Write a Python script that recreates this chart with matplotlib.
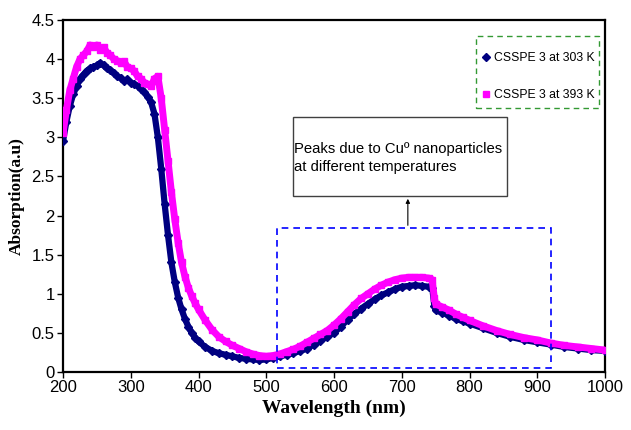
import matplotlib
matplotlib.use("Agg")
import matplotlib.pyplot as plt
from matplotlib.patches import Rectangle
from matplotlib.lines import Line2D

plt.rcParams['font.family'] = ['Liberation Sans', 'DejaVu Sans']

wl_blue = [200, 205, 210, 215, 220, 225, 230, 235, 240, 245, 250, 255, 260, 265, 270, 275,
           280, 285, 290, 295, 300, 305, 310, 315, 320, 325, 330, 335, 340, 345, 350, 355,
           360, 365, 370, 375, 380, 385, 390, 395, 400, 410, 420, 430, 440, 450, 460, 470,
           480, 490, 500, 510, 520, 530, 540, 550, 560, 570, 580, 590, 600, 610, 620, 630,
           640, 650, 660, 670, 680, 690, 700, 710, 720, 730, 740, 745, 748, 750, 760, 770,
           780, 790, 800, 820, 840, 860, 880, 900, 920, 940, 960, 980, 1000]
abs_303 = [2.95, 3.2, 3.4, 3.55, 3.65, 3.75, 3.8, 3.85, 3.88, 3.9, 3.92, 3.95, 3.92, 3.88, 3.86, 3.82,
           3.78, 3.76, 3.72, 3.74, 3.70, 3.68, 3.66, 3.62, 3.58, 3.52, 3.45, 3.3, 3.0, 2.6, 2.15, 1.75,
           1.4, 1.15, 0.95, 0.8, 0.68, 0.58, 0.5, 0.44, 0.39, 0.32, 0.27, 0.24, 0.22, 0.2, 0.18, 0.17,
           0.16, 0.155, 0.16, 0.18, 0.2, 0.22, 0.24, 0.27, 0.3, 0.35, 0.4, 0.45, 0.5, 0.58, 0.67, 0.74,
           0.81, 0.87, 0.93, 0.98, 1.02, 1.06, 1.09, 1.1, 1.11, 1.1, 1.09, 1.08, 0.85, 0.79, 0.76, 0.72,
           0.68, 0.65, 0.62, 0.56, 0.5, 0.45, 0.41, 0.38, 0.35, 0.32, 0.3, 0.28, 0.27]

wl_pink = wl_blue
abs_393 = [3.05, 3.35, 3.6, 3.75, 3.9, 4.0, 4.05, 4.1, 4.18, 4.15, 4.18, 4.12, 4.15, 4.08, 4.05, 4.0,
           3.98, 3.95, 3.97, 3.9, 3.88, 3.85, 3.78, 3.75, 3.7, 3.68, 3.65, 3.75, 3.78, 3.5, 3.1, 2.7,
           2.3, 1.95, 1.65, 1.4, 1.22, 1.08, 0.97, 0.88, 0.8, 0.66, 0.54, 0.45, 0.39, 0.34, 0.3, 0.26,
           0.23, 0.21, 0.2, 0.21, 0.23, 0.26, 0.29, 0.33, 0.38, 0.43, 0.48, 0.53, 0.6, 0.68, 0.77, 0.86,
           0.94, 1.0, 1.06, 1.11, 1.15, 1.18, 1.2, 1.21, 1.21, 1.21, 1.2, 1.18, 0.95, 0.87, 0.83, 0.79,
           0.74, 0.7, 0.66, 0.59, 0.53, 0.48, 0.44, 0.41, 0.37, 0.34, 0.32, 0.3, 0.28]

labels = ['CSSPE 3 at 303 K', 'CSSPE 3 at 393 K']
xticks = [200, 300, 400, 500, 600, 700, 800, 900, 1000]
yticks = [0, 0.5, 1, 1.5, 2, 2.5, 3, 3.5, 4, 4.5]
ytick_labels = ['0', '0.5', '1', '1.5', '2', '2.5', '3', '3.5', '4', '4.5']
note = 'Peaks due to Cu\u00ba nanoparticles\nat different temperatures'

c_blue = '#000080'
c_pink = '#FF00FF'

fig = plt.figure(figsize=(6.31, 4.30), dpi=100)
ax = fig.add_axes([63/631, 58/430, 542/631, 352/430])

ax.plot(wl_blue, abs_303, color=c_blue, lw=4.5, marker='D', ms=4, solid_capstyle='round',
        solid_joinstyle='round', zorder=3)
ax.plot(wl_pink, abs_393, color=c_pink, lw=5.0, marker='s', ms=5, solid_capstyle='round',
        solid_joinstyle='round', zorder=4)

ax.set_xlim(200, 1000)
ax.set_ylim(0, 4.5)
ax.set_xticks(xticks)
ax.set_yticks(yticks)
ax.set_yticklabels(ytick_labels)
ax.tick_params(direction='out', length=4, width=1, labelsize=12, colors='black', pad=2)
for s in ax.spines.values():
    s.set_linewidth(1.6)
    s.set_color('black')

ax.set_xlabel('Wavelength (nm)', family=['Liberation Serif'], fontweight='bold', fontsize=14, labelpad=3)
ax.set_ylabel('Absorption(a.u)', family=['Liberation Serif'], fontweight='bold', fontsize=12.5, labelpad=5)

# dashed highlight box
ax.add_patch(Rectangle((516, 0.05), 404, 1.79, fill=False, edgecolor='#0000FF',
                       linestyle=(0, (4, 3)), lw=1.2, zorder=5))
# annotation box
ax.add_patch(Rectangle((539, 2.25), 316, 1.01, fill=True, facecolor='white', edgecolor='#404040',
                       lw=1.0, zorder=5))
ax.text(541, 2.74, note, fontsize=10.7, va='center', ha='left', zorder=6, linespacing=1.35)
ax.annotate('', xy=(709, 2.25), xytext=(709, 1.84),
            arrowprops=dict(arrowstyle='-|>', color='black', lw=0.8, mutation_scale=6), zorder=6)

# legend frame (green dashed) drawn separately
ax.add_patch(Rectangle((0.762, 0.750), 0.227, 0.205, transform=ax.transAxes, fill=True,
                       facecolor='white', edgecolor='#339933', linestyle=(0, (4, 3)), lw=1.0, zorder=7))
handles = [Line2D([], [], color=c_blue, marker='D', ms=4, lw=0),
           Line2D([], [], color=c_pink, marker='s', ms=5, lw=0)]
leg = ax.legend(handles, labels, loc='center', bbox_to_anchor=(0.876, 0.839), fontsize=8.8,
                labelspacing=2.0, handlelength=0.8, handletextpad=0.3, borderpad=0.0,
                frameon=False, borderaxespad=0)
leg.set_zorder(8)

fig.savefig('out.png', dpi=100)
